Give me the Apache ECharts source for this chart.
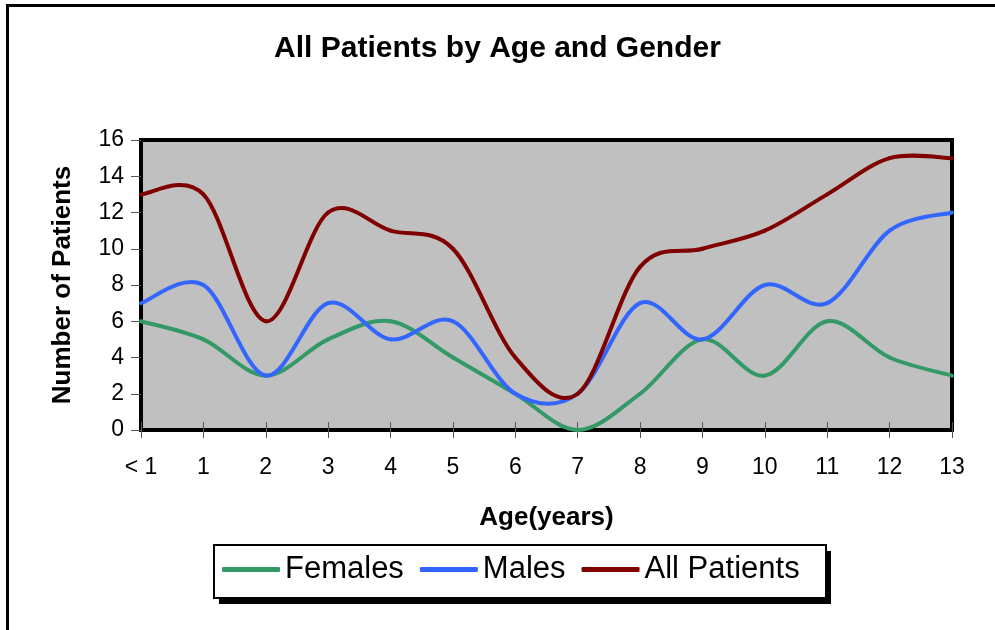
<!DOCTYPE html>
<html>
<head>
<meta charset="utf-8">
<script src="https://cdn.jsdelivr.net/npm/echarts@6/dist/echarts.min.js"></script>
<style>
  html, body { margin: 0; padding: 0; background: #fff; }
  #chart { width: 995px; height: 630px; }
</style>
</head>
<body>
<div id="chart"></div>
<script>
// 数据
const ages = ['< 1', '1', '2', '3', '4', '5', '6', '7', '8', '9', '10', '11', '12', '13']
const females = [6, 5, 3, 5, 6, 4, 2, 0, 2, 5, 3, 6, 4, 3]
const males = [7, 8, 3, 7, 5, 6, 2, 2, 7, 5, 8, 7, 11, 12]
const allPatients = [13, 13, 6, 12, 11, 10, 4, 2, 9, 10, 11, 13, 15, 15]

const font = 'Arial, "Liberation Sans", sans-serif'

const chart = echarts.init(document.getElementById('chart'))

// 平滑曲线系列：每个数据点画到下一个点的一段贝塞尔曲线（Catmull-Rom 方式取控制点）
function smoothSeries (name, values, color) {
  const n = values.length
  return {
    name: name,
    type: 'custom',
    data: values.map((v, i) => [i, v]),
    encode: { x: 0, y: 1 },
    itemStyle: { color: color },
    renderItem: function (params, api) {
      const i = params.dataIndex
      if (i >= n - 1) return
      const pt = k => {
        const j = Math.max(0, Math.min(n - 1, k))
        return api.coord([j, values[j]])
      }
      const p0 = pt(i - 1)
      const p1 = pt(i)
      const p2 = pt(i + 1)
      const p3 = pt(i + 2)
      return {
        type: 'bezierCurve',
        shape: {
          x1: p1[0], y1: p1[1],
          x2: p2[0], y2: p2[1],
          cpx1: p1[0] + (p2[0] - p0[0]) / 6,
          cpy1: p1[1] + (p2[1] - p0[1]) / 6,
          cpx2: p2[0] - (p3[0] - p1[0]) / 6,
          cpy2: p2[1] - (p3[1] - p1[1]) / 6
        },
        style: { stroke: color, fill: null, lineWidth: 4, lineCap: 'round' }
      }
    }
  }
}

chart.setOption({
  animation: false,
  backgroundColor: '#fff',
  title: {
    text: 'All Patients by Age and Gender',
    left: 'center',
    top: 29,
    textStyle: { fontFamily: font, fontSize: 30, fontWeight: 'bold', color: '#000' }
  },
  grid: {
    left: 141, right: 43, top: 140, bottom: 200,
    show: true,
    backgroundColor: '#C0C0C0',
    borderColor: '#000',
    borderWidth: 4
  },
  legend: {
    left: 222,
    top: 554,
    padding: 0,
    itemGap: 16,
    itemWidth: 58,
    itemHeight: 5,
    textStyle: { fontFamily: font, fontSize: 31, color: '#000' },
    data: [
      { name: 'Females', icon: 'roundRect' },
      { name: 'Males', icon: 'roundRect' },
      { name: 'All Patients', icon: 'roundRect' }
    ]
  },
  xAxis: [
    {
      type: 'category',
      data: ages,
      boundaryGap: false,
      name: 'Age(years)',
      nameLocation: 'middle',
      nameGap: 75,
      nameTextStyle: { fontFamily: font, fontSize: 26, fontWeight: 'bold', color: '#000' },
      axisLine: { show: false },
      axisTick: { show: true, length: 8, lineStyle: { color: '#555', width: 1 } },
      axisLabel: { fontFamily: font, fontSize: 23, color: '#000', margin: 26 },
      splitLine: { show: false }
    },
    {
      // 内侧刻度（与外侧刻度一起形成贯穿坐标轴的短线）
      type: 'category',
      data: ages,
      boundaryGap: false,
      position: 'bottom',
      axisLine: { show: false },
      axisTick: { show: true, inside: true, length: 8, lineStyle: { color: '#555', width: 1 } },
      axisLabel: { show: false },
      splitLine: { show: false }
    }
  ],
  yAxis: {
    type: 'value',
    min: 0,
    max: 16,
    interval: 2,
    name: 'Number of Patients',
    nameLocation: 'middle',
    nameGap: 65,
    nameTextStyle: { fontFamily: font, fontSize: 26, fontWeight: 'bold', color: '#000' },
    axisLine: { show: false },
    axisTick: { show: true, length: 10, lineStyle: { color: '#555', width: 1 } },
    axisLabel: { fontFamily: font, fontSize: 23, color: '#000', margin: 17 },
    splitLine: { show: false }
  },
  series: [
    smoothSeries('Females', females, '#339966'),
    smoothSeries('Males', males, '#3366FF'),
    smoothSeries('All Patients', allPatients, '#800000')
  ],
  graphic: [
    // 外框：仅上边和左边可见
    { type: 'line', z: 1, shape: { x1: 6, y1: 5.5, x2: 995, y2: 5.5 }, style: { stroke: '#000', lineWidth: 3 } },
    { type: 'line', z: 1, shape: { x1: 7.5, y1: 4, x2: 7.5, y2: 630 }, style: { stroke: '#000', lineWidth: 3 } },
    // 图例外框及阴影
    { type: 'rect', z: 1, shape: { x: 219, y: 551, width: 612, height: 53 }, style: { fill: '#000' } },
    { type: 'rect', z: 2, shape: { x: 214, y: 545, width: 612, height: 53 }, style: { fill: '#fff', stroke: '#000', lineWidth: 2 } }
  ]
})
</script>
</body>
</html>
